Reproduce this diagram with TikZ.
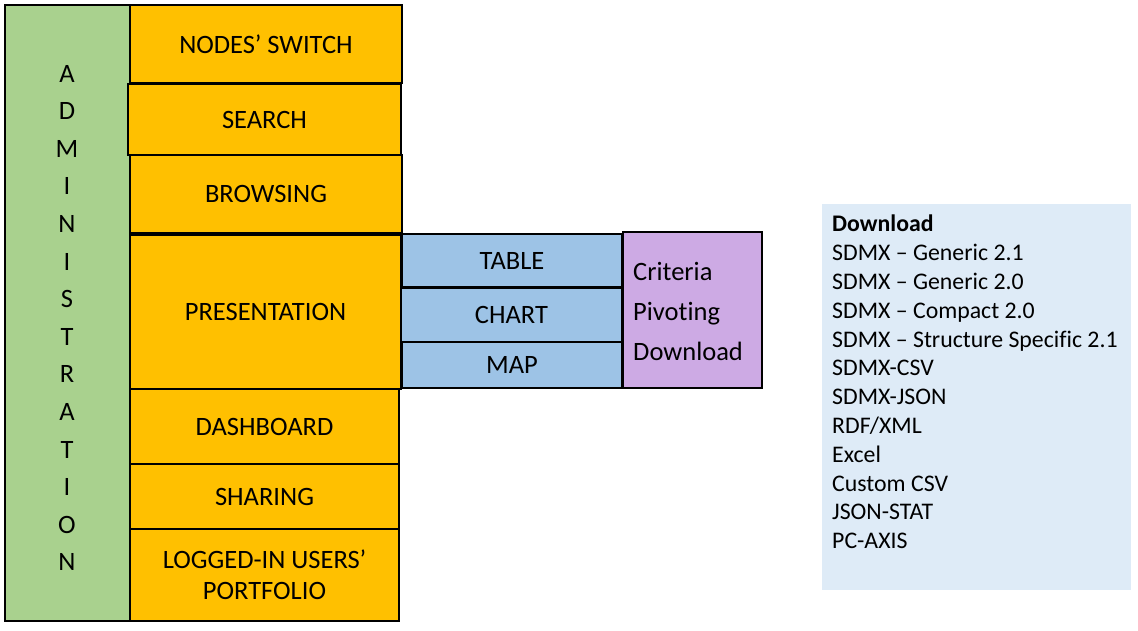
\documentclass[tikz,border=0pt]{standalone}
\usepackage{fontspec}
\setmainfont{Carlito}[Ligatures=NoCommon]
\definecolor{cgreen}{RGB}{169,209,142}
\definecolor{corange}{RGB}{255,192,0}
\definecolor{cblue}{RGB}{157,195,230}
\definecolor{cpurple}{RGB}{205,170,228}
\definecolor{clight}{RGB}{222,235,247}
\tikzset{
  cell/.style={draw=black, line width=1.5pt, inner sep=0pt, outer sep=0pt, anchor=north west, align=center, font=\fontsize{26.5}{30}\selectfont},
  obox/.style={cell, fill=corange},
  bbox/.style={cell, fill=cblue},
}
\begin{document}
\begin{tikzpicture}[x=1pt,y=-1pt]
\useasboundingbox (0,0) rectangle (1138,630);
% administration column
\node[cell, fill=cgreen, minimum width=125pt, minimum height=616pt] (admin) at (5,5) {};
\node[align=center, inner sep=0pt, font=\fontsize{26.5}{37.6}\selectfont] (admintext) at (67,318)
  {A\\D\\M\\I\\N\\I\\S\\T\\R\\A\\T\\I\\O\\N};
% orange boxes
\node[obox, minimum width=272pt, minimum height=78pt] (nodes) at (130,5) {NODES’ SWITCH};
\node[obox, minimum width=273pt, minimum height=71pt] (search) at (128,84) {SEARCH};
\node[obox, minimum width=272pt, minimum height=78pt] (browsing) at (130,155) {BROWSING};
\node[obox, minimum width=271pt, minimum height=154pt] (presentation) at (130,235) {PRESENTATION};
\node[obox, minimum width=269pt, minimum height=75pt] (dashboard) at (130,389) {DASHBOARD};
\node[obox, minimum width=269pt, minimum height=65pt] (sharing) at (130,464) {SHARING};
\node[obox, minimum width=269pt, minimum height=92pt, font=\fontsize{26.5}{31}\selectfont] (logged) at (130,529) {LOGGED-IN USERS’\\PORTFOLIO};
% blue boxes
\node[bbox, minimum width=220pt, minimum height=53pt] (table) at (402,234) {TABLE};
\node[bbox, minimum width=221pt, minimum height=54pt] (chart) at (401,288) {CHART};
\node[bbox, minimum width=220pt, minimum height=46pt] (map) at (402,342) {MAP};
% purple box
\node[cell, fill=cpurple, minimum width=139pt, minimum height=156pt] (purple) at (623,232) {};
\node[anchor=north west, align=left, inner sep=0pt, font=\fontsize{26.5}{40}\selectfont] (ptext) at (633,262.5)
  {Criteria\\Pivoting\\Download};
% download list
\node[anchor=north west, fill=clight, minimum width=309pt, minimum height=386pt, inner sep=0pt] (listbox) at (822,204) {};
\node[anchor=north west, align=left, inner sep=0pt, font=\fontsize{23.8}{28.8}\selectfont] (list) at (832,215)
  {\textbf{Download}\\
   SDMX – Generic 2.1\\
   SDMX – Generic 2.0\\
   SDMX – Compact 2.0\\
   SDMX – Structure Specific 2.1\\
   SDMX-CSV\\
   SDMX-JSON\\
   RDF/XML\\
   Excel\\
   Custom CSV\\
   JSON-STAT\\
   PC-AXIS};
\end{tikzpicture}
\end{document}
